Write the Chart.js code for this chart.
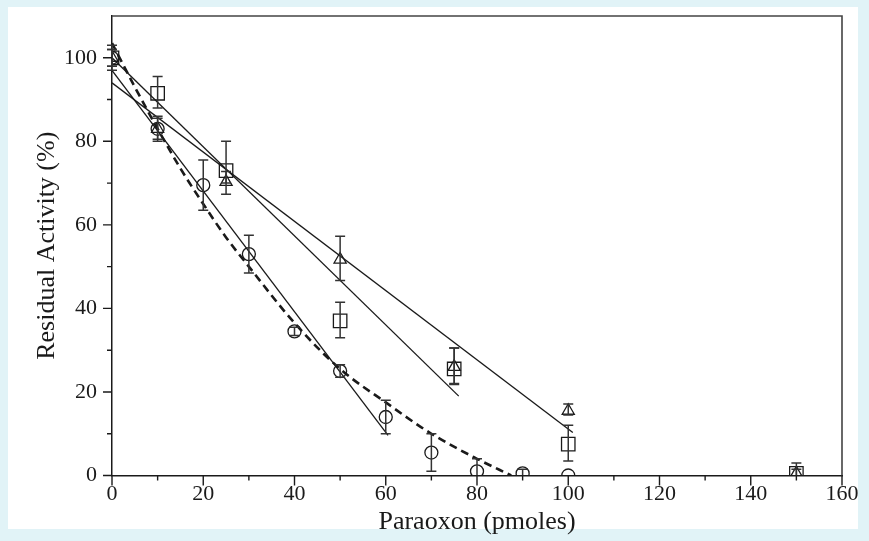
<!DOCTYPE html>
<html>
<head>
<meta charset="utf-8">
<script src="https://cdn.jsdelivr.net/npm/chart.js@4.4.1/dist/chart.umd.min.js"></script>
<style>
  html, body { margin: 0; padding: 0; background: #e1f3f7; }
  #wrap { position: relative; width: 869px; height: 541px; }
</style>
</head>
<body>
<div id="wrap"><canvas id="chart" width="869" height="541"></canvas></div>
<script>
// Values
const xCircle = [0, 10, 20, 30, 40, 50, 60, 70, 80, 90, 100];
const yCircle = [100, 83, 69.5, 53, 34.5, 25, 14, 5.5, 1, 0.5, 0];
const errCircleHi = [2, 3, 6, 4.5, 1, 1.5, 4, 4.5, 3, 1, 0];
const errCircleLo = [2, 3, 6, 4.5, 1, 1.5, 4, 4.5, 1, 0.5, 0];

const xSquare = [0, 10, 25, 50, 75, 100, 150];
const ySquare = [100, 91.5, 73, 37, 25.5, 7.5, 0.5];
const errSquareHi = [3, 4, 7, 4.5, 5, 4.5, 2.5];
const errSquareLo = [3, 3.5, 3, 4, 3.7, 4, 0.5];

const xTriangle = [0, 10, 25, 50, 75, 100, 150];
const yTriangle = [100, 83, 70.3, 51.7, 26, 15.5, 0.5];
const errTriangleHi = [2, 2.5, 2.5, 5.6, 4.5, 1.6, 1];
const errTriangleLo = [2, 2.5, 3, 5, 4, 1, 0.5];

// linear fits (end points)
const fitAX = [0, 101], fitAY = [94, 10.3];
const fitBX = [0, 76], fitBY = [100, 19];
const fitCX = [0, 60.5], fitCY = [97, 9.6];

// dashed curve
const curveX = [0, 5, 10, 15, 20, 25, 30, 40, 50, 60, 70, 80, 87.5];
const curveY = [103.5, 93, 83, 73.5, 65, 57, 50, 36.5, 25.5, 17.5, 10, 4, 0];

// axis ticks
const xMajor = [0, 20, 40, 60, 80, 100, 120, 140, 160];
const xMinor = [10, 30, 50, 70, 90, 110, 130, 150];
const yMajor = [0, 20, 40, 60, 80, 100];
const yMinor = [10, 30, 50, 70, 90];

const ink = '#1a1a1a';
const serif = "'Liberation Serif', 'Times New Roman', serif";

function pts(xs, ys) {
    return xs.map((x, i) => ({ x: x, y: ys[i] }));
}

// background: cyan page with a white panel
const panelPlugin = {
    id: 'panel',
    beforeDraw(chart) {
        const ctx = chart.ctx;
        ctx.save();
        ctx.fillStyle = '#e1f3f7';
        ctx.fillRect(0, 0, chart.width, chart.height);
        ctx.fillStyle = '#ffffff';
        ctx.fillRect(8, 7, 850, 522);
        ctx.restore();
    }
};

// error bars, drawn through the scales
const errorBarPlugin = {
    id: 'errorBars',
    afterDatasetsDraw(chart) {
        const ctx = chart.ctx;
        const xs = chart.scales.x, ys = chart.scales.y;
        ctx.save();
        ctx.strokeStyle = '#333';
        ctx.lineWidth = 1.5;
        chart.data.datasets.forEach(ds => {
            if (!ds.err) return;
            ds.data.forEach((p, i) => {
                const px = xs.getPixelForValue(p.x);
                const hi = ds.err.hi[i], lo = ds.err.lo[i];
                const yTop = ys.getPixelForValue(Math.min(p.y + hi, 110));
                const yBot = ys.getPixelForValue(Math.max(p.y - lo, 0));
                ctx.beginPath();
                ctx.moveTo(px, yTop);
                ctx.lineTo(px, yBot);
                if (hi > 0.6) { ctx.moveTo(px - 5, yTop); ctx.lineTo(px + 5, yTop); }
                if (lo > 0.6 && p.y - lo > 0) { ctx.moveTo(px - 5, yBot); ctx.lineTo(px + 5, yBot); }
                ctx.stroke();
            });
        });
        ctx.restore();
    }
};

// frame and outward ticks (major + minor)
const framePlugin = {
    id: 'frame',
    afterDraw(chart) {
        const ctx = chart.ctx;
        const a = chart.chartArea;
        const xs = chart.scales.x, ys = chart.scales.y;
        ctx.save();
        ctx.strokeStyle = '#444';
        ctx.lineWidth = 1.6;
        ctx.beginPath();
        ctx.moveTo(a.left, a.top);
        ctx.lineTo(a.right, a.top);
        ctx.lineTo(a.right, a.bottom);
        ctx.stroke();

        ctx.strokeStyle = ink;
        ctx.lineWidth = 1.4;
        ctx.beginPath();
        xMajor.forEach(v => { const p = xs.getPixelForValue(v); ctx.moveTo(p, a.bottom); ctx.lineTo(p, a.bottom + 10); });
        xMinor.forEach(v => { const p = xs.getPixelForValue(v); ctx.moveTo(p, a.bottom); ctx.lineTo(p, a.bottom + 5); });
        yMajor.forEach(v => { const p = ys.getPixelForValue(v); ctx.moveTo(a.left, p); ctx.lineTo(a.left - 9, p); });
        yMinor.forEach(v => { const p = ys.getPixelForValue(v); ctx.moveTo(a.left, p); ctx.lineTo(a.left - 5, p); });
        ctx.stroke();
        ctx.restore();
    }
};

const markerBase = {
    showLine: false,
    borderColor: ink,
    backgroundColor: 'rgba(0,0,0,0)',
    pointBorderColor: ink,
    pointBackgroundColor: 'rgba(0,0,0,0)',
    pointBorderWidth: 1.3
};

const fitBase = {
    showLine: true,
    borderColor: ink,
    borderWidth: 1.3,
    pointRadius: 0,
    tension: 0
};

new Chart(document.getElementById('chart'), {
    type: 'scatter',
    data: {
        datasets: [
            Object.assign({ label: 'fit A', data: pts(fitAX, fitAY) }, fitBase),
            Object.assign({ label: 'fit B', data: pts(fitBX, fitBY) }, fitBase),
            Object.assign({ label: 'fit C', data: pts(fitCX, fitCY) }, fitBase),
            {
                label: 'curve',
                data: pts(curveX, curveY),
                showLine: true,
                borderColor: ink,
                borderWidth: 2.6,
                borderDash: [8, 5],
                pointRadius: 0,
                cubicInterpolationMode: 'monotone'
            },
            Object.assign({
                label: 'circles', data: pts(xCircle, yCircle),
                pointStyle: 'circle', pointRadius: 6.5,
                err: { hi: errCircleHi, lo: errCircleLo }
            }, markerBase),
            Object.assign({
                label: 'squares', data: pts(xSquare, ySquare),
                pointStyle: 'rect', pointRadius: 9.5,
                err: { hi: errSquareHi, lo: errSquareLo }
            }, markerBase),
            Object.assign({
                label: 'triangles', data: pts(xTriangle, yTriangle),
                pointStyle: 'triangle', pointRadius: 7,
                err: { hi: errTriangleHi, lo: errTriangleLo }
            }, markerBase)
        ]
    },
    options: {
        responsive: false,
        animation: false,
        layout: { padding: { top: 16, right: 27, left: 0, bottom: 0 } },
        plugins: {
            legend: { display: false },
            tooltip: { enabled: false }
        },
        scales: {
            x: {
                type: 'linear',
                min: 0,
                max: 160,
                afterFit: s => { s.height = 65.5; s.paddingLeft = 0; s.paddingRight = 0; },
                afterBuildTicks: s => { s.ticks = xMajor.map(v => ({ value: v })); },
                ticks: { color: ink, padding: 6, font: { family: serif, size: 22 } },
                grid: { drawOnChartArea: false, drawTicks: false },
                border: { display: true, color: ink, width: 1.5 },
                title: {
                    display: true,
                    text: 'Paraoxon (pmoles)',
                    color: ink,
                    font: { family: serif, size: 26 },
                    padding: { top: 0, bottom: 3 }
                }
            },
            y: {
                type: 'linear',
                min: 0,
                max: 110,
                afterFit: s => { s.width = 112; s.paddingTop = 0; s.paddingBottom = 0; },
                afterBuildTicks: s => { s.ticks = yMajor.map(v => ({ value: v })); },
                ticks: { color: ink, padding: 15, font: { family: serif, size: 22 } },
                grid: { drawOnChartArea: false, drawTicks: false },
                border: { display: true, color: ink, width: 1.5 },
                title: {
                    display: true,
                    text: 'Residual Activity (%)',
                    color: ink,
                    font: { family: serif, size: 26 },
                    padding: { top: 32, bottom: 0 }
                }
            }
        }
    },
    plugins: [panelPlugin, errorBarPlugin, framePlugin]
});
</script>
</body>
</html>
